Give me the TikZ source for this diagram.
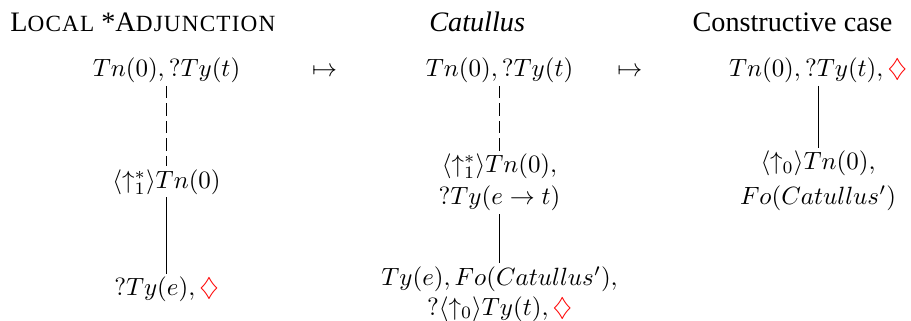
\documentclass[tikz,border=0pt]{standalone}
\usepackage[no-math]{fontspec}
\setmainfont{Liberation Serif}
\usetikzlibrary{positioning}

\newcommand{\dmd}{\textcolor{red}{\diamondsuit}}
\newcommand{\fsc}[1]{{\fontsize{9.3}{10}\selectfont\addfontfeature{LetterSpace=5}#1}}

\tikzset{
  tnode/.style={inner sep=1pt, anchor=base},
  multi/.style={inner sep=1pt, align=center},
  heading/.style={inner sep=0pt, anchor=base, font=\fontsize{11.3}{13}\selectfont},
  dashedge/.style={dash pattern=on 5pt off 2pt},
}

\begin{document}
\begin{tikzpicture}
\useasboundingbox (0,0) rectangle (12.83,-4.51);

% Headings
\node[heading, anchor=base west] (hdA) at (0.14,-0.44) {L\fsc{OCAL} *A\fsc{DJUNCTION}};
\node[heading] (hdB) at (6.72,-0.44) {\textit{Catullus}};
\node[heading] (hdC) at (11.16,-0.44) {Constructive case};

% Local *Adjunction
\node[tnode] (rootA) at (2.345,-1.08) {$Tn(0), ?Ty(t)$};
\node[tnode] (midA) at (2.345,-2.65) {$\langle\uparrow_1^*\rangle Tn(0)$};
\node[tnode] (leafA) at (2.345,-4.16) {$?Ty(e), \dmd$};
\draw[dashedge] (rootA) -- (midA);
\draw (midA) -- (leafA);

% transitions
\node[tnode] (mapA) at (4.57,-1.08) {$\mapsto$};
\node[tnode] (mapB) at (8.87,-1.08) {$\mapsto$};

% Catullus
\node[tnode] (rootB) at (7.035,-1.08) {$Tn(0), ?Ty(t)$};
\node[multi] (midB) at (7.035,-2.57) {$\langle\uparrow_1^*\rangle Tn(0),$\\[1pt] $?Ty(e\rightarrow t)$};
\node[multi] (leafB) at (7.035,-4.14) {$Ty(e), Fo(Catullus'),$\\ $?\langle\uparrow_0\rangle Ty(t), \dmd$};
\draw[dashedge] (rootB) -- (midB);
\draw (midB) -- (leafB);

% Constructive case
\node[tnode] (rootC) at (11.52,-1.08) {$Tn(0), ?Ty(t), \dmd$};
\node[multi] (midC) at (11.52,-2.55) {$\langle\uparrow_0\rangle Tn(0),$\\[2pt] $Fo(Catullus')$};
\draw (rootC) -- (midC);

\end{tikzpicture}
\end{document}
